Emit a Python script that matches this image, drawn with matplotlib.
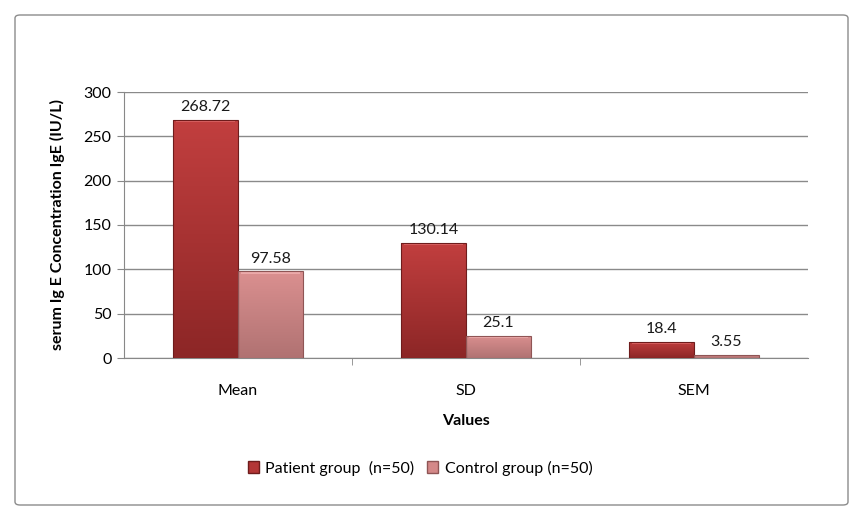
import matplotlib
matplotlib.use("Agg")
import matplotlib.pyplot as plt
import numpy as np
from matplotlib.patches import FancyBboxPatch
from matplotlib.colors import LinearSegmentedColormap

categories = ["Mean", "SD", "SEM"]
patient = [268.72, 130.14, 18.4]
control = [97.58, 25.1, 3.55]
patient_labels = ["268.72", "130.14", "18.4"]
control_labels = ["97.58", "25.1", "3.55"]
series_names = ["Patient group  (n=50)", "Control group (n=50)"]
yticks = [0, 50, 100, 150, 200, 250, 300]

plt.rcParams['font.family'] = ['Lato', 'DejaVu Sans']

fig = plt.figure(figsize=(8.65, 5.22), dpi=100)
border = FancyBboxPatch((15/865, 1-505/522), (848-15)/865, (505-15)/522,
                        boxstyle="round,pad=0,rounding_size=0.006",
                        transform=fig.transFigure, fill=False,
                        edgecolor="#8c8c8c", linewidth=1.0)
fig.patches.append(border)

ax = fig.add_axes([124/865, 1-358/522, (808-124)/865, (358-92)/522])

x = np.arange(len(categories))
w = 0.285
pc = "#B33636"
cc = "#D48888"
b1 = ax.bar(x - w/2, patient, w, color=pc, edgecolor="#6e1c1c", linewidth=0.8, zorder=3,
            label=series_names[0])
b2 = ax.bar(x + w/2, control, w, color=cc, edgecolor="#8f5555", linewidth=0.8, zorder=3,
            label=series_names[1])

cmap_p = LinearSegmentedColormap.from_list("p", ["#8C2626", "#C23F3F"])
cmap_c = LinearSegmentedColormap.from_list("c", ["#B07272", "#DB9090"])
grad = np.linspace(0, 1, 256).reshape(-1, 1)
for bars, cm, hi in ((b1, cmap_p, "#E06A6A"), (b2, cmap_c, "#F0B0B0")):
    for r in bars:
        x0, y0, ww, hh = r.get_x(), r.get_y(), r.get_width(), r.get_height()
        im = ax.imshow(grad, cmap=cm, origin="lower", aspect="auto",
                       extent=(x0, x0 + ww, y0, y0 + hh), zorder=3.5)
        im.set_clip_path(r)
        bev = min(3.0, hh * 0.3)
        ax.fill_between([x0 + 0.012, x0 + ww - 0.012], y0 + hh - bev, y0 + hh,
                        color=hi, linewidth=0, zorder=3.6, alpha=0.8)
        r.set_zorder(3.7)
        r.set_facecolor("none")

for xi, v, s in zip(x - w/2, patient, patient_labels):
    ax.text(xi, v + 6.5, s, ha="center", va="bottom", fontsize=11.5, color="#1a1a1a")
for xi, v, s in zip(x + w/2, control, control_labels):
    ax.text(xi, v + 6.5, s, ha="center", va="bottom", fontsize=11.5, color="#1a1a1a")

ax.set_xlim(-0.5, len(categories) - 0.5)
ax.set_ylim(0, 300)
ax.set_yticks(yticks)
ax.set_yticklabels([str(t) for t in yticks], fontsize=11.5)
ax.set_xticks(x)
ax.set_xticklabels(categories, fontsize=11.5)
ax.tick_params(axis="x", length=0, pad=19)
ax.tick_params(axis="y", length=5, color="#888888", pad=4)
ax.set_xticks([0.5, 1.5], minor=True)
ax.tick_params(axis="x", which="minor", length=5, color="#888888", direction="out")
ax.grid(axis="y", color="#8a8a8a", linewidth=1.0, zorder=0)
for s in ("top", "right"):
    ax.spines[s].set_visible(False)
ax.spines["left"].set_color("#888888")
ax.spines["bottom"].set_color("#888888")

ax.set_xlabel("Values", fontsize=11.5, fontweight="bold", labelpad=11)
ax.set_ylabel("serum Ig E Concentration IgE (IU/L)", fontsize=11.5, fontweight="bold", labelpad=13)

handles = [plt.Rectangle((0, 0), 1, 1, facecolor=pc, edgecolor="#6e1c1c"),
           plt.Rectangle((0, 0), 1, 1, facecolor=cc, edgecolor="#8f5555")]
fig.legend(handles, series_names, loc="center", bbox_to_anchor=(420/865, 1-468/522),
           ncol=2, frameon=False, fontsize=11.5, handlelength=0.7, handleheight=0.7,
           handletextpad=0.4, columnspacing=0.8)

fig.savefig("out.png", dpi=100)
